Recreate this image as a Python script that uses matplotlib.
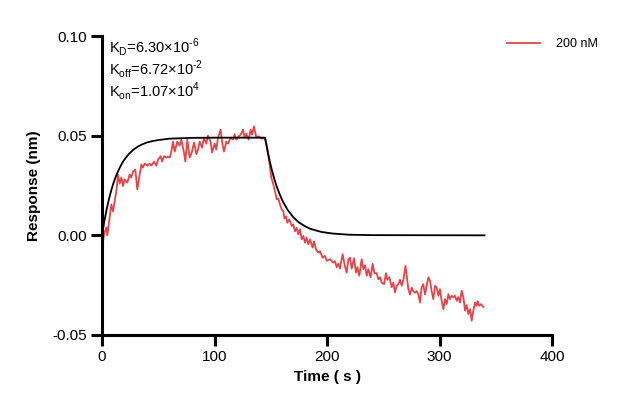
import matplotlib
matplotlib.use("Agg")
import matplotlib.pyplot as plt

plt.rcParams['font.family'] = ['Liberation Sans', 'DejaVu Sans']
plt.rcParams['axes.unicode_minus'] = False

# Measured (red) curve: time (s), response (nm)
red_t = [0, 1.8, 3.9, 4.7, 6.8, 8.3, 9.8, 11.3, 12.7, 14.2, 15.7, 17.2, 18.7, 20.1, 22.5,
         24.6, 26, 27.6, 29.6, 31.4, 33.5, 35, 36.4, 37.9, 40.3, 42.4, 43.9, 46.2, 48.3,
         49.8, 52.1, 53.3, 55.1, 57.2, 58.7, 60.2, 61.6, 63.1, 64.6, 66.9, 69, 70.5, 72.9,
         74.1, 75.8, 77.9, 80, 81.8, 83.9, 85.3, 86.8, 88.9, 90.7, 92.7, 94.2, 96.6, 97.8,
         100.1, 101.6, 103.1, 105.5, 106.7, 108.4, 110.5, 112, 114.4, 116.4, 117.9, 119.4,
         121.5, 123.3, 125.3, 126.8, 128.3, 130.4, 132.1, 133.3, 135.1, 137.2, 139.3, 141.6,
         144.6, 146.9, 149, 150.5, 152.3, 153.8, 155.3, 156.7, 158.2, 159.7, 161.2, 162.1,
         163.6, 164.7, 166.5, 168.6, 170, 171.5, 173, 174.5, 176, 177.5, 179, 180.4, 181.9,
         183.4, 184.9, 187.3, 188.5, 190.2, 192.3, 193.8, 196.1, 198.2, 199.7, 202.7, 205.6,
         207.1, 208.6, 210, 211.5, 213.9, 216, 217.5, 219, 220.4, 221.9, 224, 225.8, 227,
         228.7, 230.8, 232.3, 233.8, 235.3, 236.7, 238.8, 240.6, 242.1, 244.1, 245.6, 247.1,
         248.6, 250.7, 252.4, 253.6, 255.4, 257.5, 259, 260.4, 261.9, 263.4, 264.9, 266.4,
         267.9, 269.8, 271, 272.3, 273.8, 275.3, 276.7, 278.2, 279.7, 281.2, 282.7, 284.1,
         285.6, 287.1, 288.6, 290.1, 291.6, 293, 294.5, 296, 297.5, 299, 300.4, 301.9, 303.4,
         304.9, 306.4, 307.9, 309.3, 310.8, 312.3, 313.8, 315.3, 316.7, 318.2, 319.7, 321.2,
         322.7, 324.1, 325.6, 327.1, 328.6, 330.1, 331.6, 333, 333.9, 335.1, 336.9, 339]
red_r = [-0.007, 0.0005, 0.004, 0.000, 0.009, 0.0155, 0.012, 0.017, 0.022, 0.0305, 0.026,
         0.029, 0.0247, 0.028, 0.0265, 0.0305, 0.029, 0.032, 0.033, 0.023, 0.0305, 0.0355,
         0.034, 0.036, 0.035, 0.036, 0.035, 0.037, 0.035, 0.038, 0.0397, 0.037, 0.0397,
         0.039, 0.0395, 0.039, 0.042, 0.047, 0.042, 0.047, 0.045, 0.048, 0.0415, 0.037,
         0.048, 0.039, 0.042, 0.0465, 0.0407, 0.043, 0.047, 0.044, 0.049, 0.046, 0.050,
         0.047, 0.0415, 0.046, 0.043, 0.049, 0.053, 0.047, 0.042, 0.047, 0.046, 0.049,
         0.048, 0.0507, 0.048, 0.0497, 0.0505, 0.053, 0.049, 0.051, 0.048, 0.053, 0.0505,
         0.0547, 0.049, 0.0497, 0.0485, 0.0488, 0.0438, 0.0355, 0.029, 0.0255, 0.022,
         0.018, 0.0185, 0.0155, 0.013, 0.012, 0.0085, 0.0095, 0.0063, 0.008, 0.0047,
         0.0055, 0.002, 0.0038, 0.0005, 0.003, -0.002, -0.0003, -0.0037, -0.0012, -0.0045,
         -0.002, -0.0062, -0.003, -0.007, -0.0087, -0.008, -0.0112, -0.0103, -0.0128,
         -0.012, -0.0137, -0.013, -0.016, -0.0142, -0.0167, -0.0095, -0.0157, -0.0187,
         -0.012, -0.0112, -0.0167, -0.0115, -0.0187, -0.016, -0.0203, -0.012, -0.017,
         -0.015, -0.0203, -0.017, -0.021, -0.0143, -0.019, -0.019, -0.022, -0.021, -0.0237,
         -0.0245, -0.019, -0.0223, -0.021, -0.026, -0.0237, -0.0287, -0.0253, -0.0245,
         -0.0223, -0.0253, -0.0223, -0.0153, -0.021, -0.027, -0.0297, -0.0262, -0.028,
         -0.0288, -0.028, -0.0297, -0.0337, -0.0262, -0.0245, -0.0297, -0.0253, -0.021,
         -0.0228, -0.028, -0.032, -0.0253, -0.0262, -0.0303, -0.027, -0.0328, -0.037,
         -0.032, -0.0345, -0.0295, -0.032, -0.0303, -0.031, -0.0303, -0.0328, -0.031,
         -0.0337, -0.0278, -0.031, -0.0378, -0.035, -0.0395, -0.037, -0.0428, -0.0378,
         -0.0337, -0.0353, -0.033, -0.0353, -0.0345, -0.036]

# Fitted (black) curve: time (s), response (nm)
fit_t = [0, 2, 4, 6, 8, 10, 12, 14, 16, 18, 20, 24, 28, 32, 36, 40, 45, 50, 60, 70, 80,
         100, 120, 145, 147, 149, 151, 153, 155, 158, 161, 165, 170, 175, 180, 185, 195,
         205, 220, 240, 340]
fit_r = [0.0, 0.0068, 0.0127, 0.0177, 0.0221, 0.0259, 0.0291, 0.0318, 0.0342, 0.0363,
         0.0381, 0.0409, 0.0430, 0.0446, 0.0457, 0.0466, 0.0473, 0.0478, 0.0485, 0.0487,
         0.0489, 0.0490, 0.0490, 0.0490, 0.0428, 0.0374, 0.0327, 0.0286, 0.0250, 0.0205,
         0.0167, 0.0128, 0.0091, 0.0065, 0.0047, 0.0033, 0.0017, 0.0009, 0.0003, 0.0001,
         0.0]

x_ticks = [0, 100, 200, 300, 400]
y_ticks = [-0.05, 0.00, 0.05, 0.10]
y_ticklabels = ["-0.05", "0.00", "0.05", "0.10"]
series_label = "200 nM"
annotations = [("K", "D", "=6.30×10", "\u20106"),
               ("K", "off", "=6.72×10", "\u20102"),
               ("K", "on", "=1.07×10", "4")]

fig = plt.figure(figsize=(6.22, 4.12), dpi=100)
ax = fig.add_axes([102/622, 77/412, 450/622, 299/412])

ax.plot(red_t, red_r, color='#E0464A', lw=1.3, label=series_label, zorder=2)
ax.plot(fit_t, fit_r, color='black', lw=1.3, zorder=3)

ax.set_xlim(0, 400)
ax.set_ylim(-0.05, 0.10)
ax.set_xticks(x_ticks)
ax.set_yticks(y_ticks)
ax.set_yticklabels(y_ticklabels)
for s in ['top', 'right']:
    ax.spines[s].set_visible(False)
for s in ['left', 'bottom']:
    ax.spines[s].set_linewidth(2.2)
ax.tick_params(axis='both', width=2.2, length=8, labelsize=11, pad=3)

ax.set_xlabel("Time ( s )", fontsize=11, fontweight='bold', labelpad=4)
ax.set_ylabel("Response (nm)", fontsize=11, fontweight='bold', labelpad=8)

for i, (base, sub, mid, sup) in enumerate(annotations):
    txt = (r"%s$_\mathregular{%s}$%s$^\mathregular{%s}$" % (base, sub, mid, sup))
    ax.text(7/1.125, 0.0945 - i*0.011, txt, fontsize=10.5, va='center', ha='left')

ax.legend(loc='upper left', bbox_to_anchor=(0.875, 1.03), frameon=False, fontsize=9,
          handlelength=2.6, handletextpad=1.3)

fig.savefig("out.png", dpi=100)
